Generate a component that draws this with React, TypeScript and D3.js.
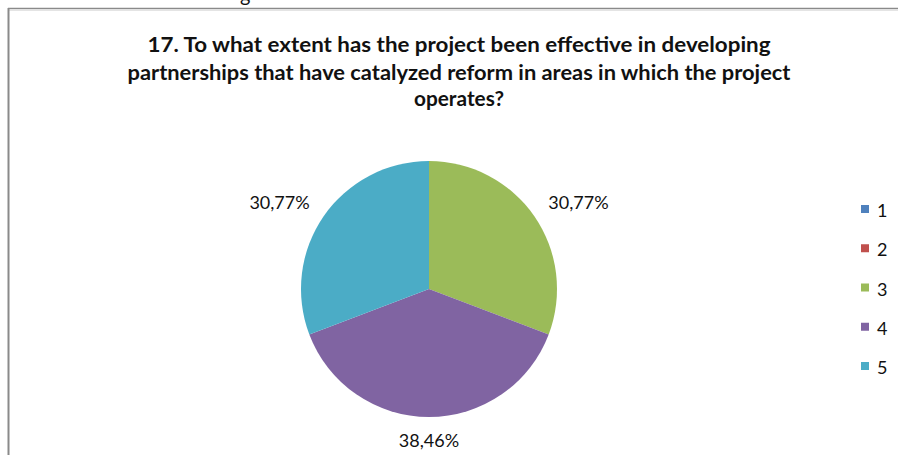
import React from "react";
import * as d3 from "d3";

const categories = ["1", "2", "3", "4", "5"];
const values = [0, 0, 4, 5, 4];
const percentLabels = ["0,00%", "0,00%", "30,77%", "38,46%", "30,77%"];
const colors = ["#4F81BD", "#C0504D", "#9BBB59", "#8064A2", "#4BACC6"];
const titleLines = [
  "17. To what extent has the project been effective in developing",
  "partnerships that have catalyzed reform in areas in which the project",
  "operates?",
];

const W = 898;
const H = 455;

export default function App() {
  const cx = 429;
  const cy = 289;
  const r = 128;
  const pie = d3.pie<number>().sort(null).value((d) => d);
  const arcs = pie(values);
  const arcGen = d3.arc<d3.PieArcDatum<number>>().innerRadius(0).outerRadius(r);
  const labelR = 145;

  const titleWidths = [623, 663, 90];
  const titleY = [52, 80, 106];

  const legendY = d3.scaleLinear().domain([0, 4]).range([211, 368]);

  return (
    <svg
      width={W}
      height={H}
      style={{ position: "absolute", left: 0, top: 0, background: "#fff" }}
    >
      <rect x={0} y={0} width={W} height={H} fill="#fff" />
      <text x={240} y={2} fontFamily="Lato, 'Open Sans', sans-serif" fontSize={20} fill="#111">
        g
      </text>
      <line x1={8} x2={W} y1={8.5} y2={8.5} stroke="#8a8a8a" strokeWidth={1.5} />
      <line x1={8} x2={W} y1={10.5} y2={10.5} stroke="#e4e4e4" strokeWidth={1} />
      <line x1={8.5} x2={8.5} y1={8} y2={H} stroke="#8a8a8a" strokeWidth={2} />

      {titleLines.map((t, i) => (
        <text
          key={i}
          x={W / 2 + 10}
          y={titleY[i]}
          textAnchor="middle"
          fontFamily="Lato, 'Open Sans', sans-serif"
          fontWeight="bold"
          fontSize={20}
          fill="#111"
          textLength={titleWidths[i]}
          lengthAdjust="spacingAndGlyphs"
        >
          {t}
        </text>
      ))}

      <g transform={`translate(${cx},${cy})`}>
        {arcs.map((a, i) => (
          <path key={i} d={arcGen(a) || ""} fill={colors[i]} />
        ))}
        {arcs.map((a, i) => {
          if (a.value <= 0) return null;
          const mid = (a.startAngle + a.endAngle) / 2;
          const s = Math.sin(mid);
          const c = Math.cos(mid);
          const px = labelR * s;
          const py = -labelR * c;
          const anchor = Math.abs(s) < 0.2 ? "middle" : s > 0 ? "start" : "end";
          return (
            <text
              key={"l" + i}
              x={px}
              y={py + 6 - 7 * c}
              textAnchor={anchor}
              fontFamily="Lato, 'Open Sans', sans-serif"
              fontSize={18}
              fill="#111"
            >
              {percentLabels[i]}
            </text>
          );
        })}
      </g>

      {categories.map((c, i) => (
        <g key={c}>
          <rect x={861} y={legendY(i) - 6} width={8} height={8} fill={colors[i]} />
          <text
            x={877}
            y={legendY(i) + 6}
            fontFamily="Lato, 'Open Sans', sans-serif"
            fontSize={18}
            fill="#111"
          >
            {c}
          </text>
        </g>
      ))}
    </svg>
  );
}
